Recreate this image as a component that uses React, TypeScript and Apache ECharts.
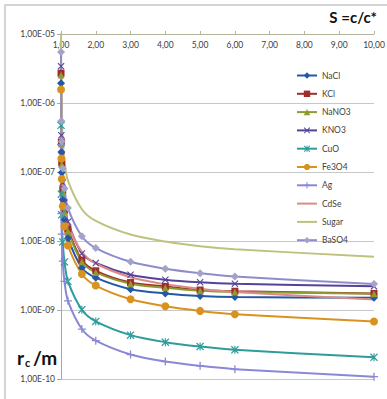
import React, { useEffect, useRef } from "react";
import * as echarts from "echarts";

// Supersaturation S values (x)
const S_VALUES = [1.001, 1.01, 1.02, 1.05, 1.1, 1.2, 1.6, 2, 3, 4, 5, 6, 10];

// Critical radius r_c in m (y)
const NACL = [1.93e-6, 1.95e-7, 9.8e-8, 4.0e-8, 2.05e-8, 1.1e-8, 4.1e-9, 2.94e-9, 2.0e-9, 1.74e-9, 1.6e-9, 1.54e-9, 1.5e-9];
const KCL = [2.7e-6, 2.7e-7, 1.36e-7, 5.5e-8, 2.8e-8, 1.5e-8, 5.3e-9, 3.7e-9, 2.5e-9, 2.2e-9, 1.95e-9, 1.87e-9, 1.74e-9];
const NANO3 = [2.55e-6, 2.55e-7, 1.28e-7, 5.2e-8, 2.65e-8, 1.4e-8, 5.0e-9, 3.5e-9, 2.4e-9, 2.1e-9, 1.9e-9, 1.83e-9, 1.72e-9];
const KNO3 = [3.4e-6, 3.4e-7, 1.72e-7, 7.0e-8, 3.6e-8, 1.9e-8, 6.6e-9, 4.8e-9, 3.25e-9, 2.75e-9, 2.52e-9, 2.4e-9, 2.2e-9];
const CUO = [4.75e-7, 4.77e-8, 2.4e-8, 9.7e-9, 4.98e-9, 2.6e-9, 1.01e-9, 6.84e-10, 4.32e-10, 3.42e-10, 2.95e-10, 2.65e-10, 2.06e-10];
const FE3O4 = [1.57e-6, 1.57e-7, 7.9e-8, 3.2e-8, 1.64e-8, 8.6e-9, 3.33e-9, 2.26e-9, 1.43e-9, 1.13e-9, 9.7e-10, 8.7e-10, 6.8e-10];
const AG = [2.49e-7, 2.5e-8, 1.26e-8, 5.1e-9, 2.6e-9, 1.36e-9, 5.3e-10, 3.59e-10, 2.26e-10, 1.79e-10, 1.55e-10, 1.39e-10, 1.08e-10];
const CDSE = [3.27e-6, 3.29e-7, 1.65e-7, 6.7e-8, 3.43e-8, 1.79e-8, 6.96e-9, 4.72e-9, 2.98e-9, 2.36e-9, 2.03e-9, 1.82e-9, 1.42e-9];
const SUGAR = [1.36e-5, 1.37e-6, 6.9e-7, 2.8e-7, 1.43e-7, 7.5e-8, 2.89e-8, 1.96e-8, 1.24e-8, 9.8e-9, 8.4e-9, 7.6e-9, 5.9e-9];
const BASO4 = [5.48e-6, 5.5e-7, 2.77e-7, 1.12e-7, 5.75e-8, 3.0e-8, 1.17e-8, 7.9e-9, 4.99e-9, 3.95e-9, 3.4e-9, 3.06e-9, 2.38e-9];

const SERIES_NAMES = ["NaCl", "KCl", "NaNO3", "KNO3", "CuO", "Fe3O4", "Ag", "CdSe", "Sugar", "BaSO4"];
const SERIES_VALUES = [NACL, KCL, NANO3, KNO3, CUO, FE3O4, AG, CDSE, SUGAR, BASO4];

const PLUS = "path://M4.2,0H5.8V4.2H10V5.8H5.8V10H4.2V5.8H0V4.2H4.2Z";
const CROSS = "path://M0,1.1L1.1,0L5,3.9L8.9,0L10,1.1L6.1,5L10,8.9L8.9,10L5,6.1L1.1,10L0,8.9L3.9,5Z";
const STAR = "path://M0,1.1L1.1,0L5,3.9L8.9,0L10,1.1L6.1,5L10,8.9L8.9,10L5,6.1L1.1,10L0,8.9L3.9,5ZM4.3,0H5.7V10H4.3Z";

const STYLES: Record<string, { color: string; symbol: string; size: number; fill?: string }> = {
  NaCl: { color: "#2458A6", symbol: "diamond", size: 8 },
  KCl: { color: "#A02C2C", symbol: "rect", size: 7 },
  NaNO3: { color: "#8F9B2E", symbol: "triangle", size: 7 },
  KNO3: { color: "#55439A", symbol: CROSS, size: 7 },
  CuO: { color: "#2E9C9C", symbol: STAR, size: 8 },
  Fe3O4: { color: "#D9921E", symbol: "circle", size: 8 },
  Ag: { color: "#8A88D6", symbol: PLUS, size: 8 },
  CdSe: { color: "#DB8A8A", symbol: "none", size: 0 },
  Sugar: { color: "#BEC27E", symbol: "none", size: 0 },
  BaSO4: { color: "#8E8CCB", symbol: "diamond", size: 8, fill: "#A3A3C9" },
};

const FONT = "Lato, 'Noto Sans', sans-serif";

function fmtExp(v: number) {
  const e = Math.round(Math.log10(v));
  const a = Math.abs(e);
  return "1,00E" + (e < 0 ? "-" : "+") + (a < 10 ? "0" + a : String(a));
}

export default function App() {
  const ref = useRef<HTMLDivElement>(null);
  useEffect(() => {
    const chart = echarts.init(ref.current!, null, { renderer: "svg" });
    const series = SERIES_NAMES.map((name, i) => {
      const st = STYLES[name];
      return {
        name,
        type: "line",
        data: S_VALUES.map((s, j) => [s, SERIES_VALUES[i][j]]),
        symbol: st.symbol,
        symbolSize: st.size,
        showSymbol: st.symbol !== "none",
        smooth: 0.3,
        clip: true,
        lineStyle: { color: st.color, width: 2 },
        itemStyle: { color: st.fill || st.color, borderWidth: 0 },
        emphasis: { disabled: true },
      };
    });
    const legendData = SERIES_NAMES.map((name) =>
      STYLES[name].symbol === "none" ? { name, itemStyle: { opacity: 0 } } : { name }
    );
    chart.setOption({
      animation: false,
      backgroundColor: "#fff",
      grid: { left: 61, right: 13, top: 34, bottom: 20, containLabel: false, outerBoundsMode: "none" },
      xAxis: {
        type: "value",
        position: "top",
        min: 1,
        max: 10,
        interval: 1,
        axisLine: { show: true, lineStyle: { color: "#B4B49C", width: 1 } },
        axisTick: { show: true, inside: false, length: 3, lineStyle: { color: "#B4B49C" } },
        axisLabel: {
          inside: true,
          margin: 6,
          fontSize: 8.5,
          fontFamily: FONT,
          color: "#404040",
          formatter: (v: number) => v.toFixed(2).replace(".", ","),
        },
        splitLine: { show: false },
      },
      yAxis: {
        type: "log",
        logBase: 10,
        min: 1e-10,
        max: 1e-5,
        splitNumber: 5,
        axisLine: { show: true, lineStyle: { color: "#A6A6A6", width: 1 } },
        axisTick: { show: true, length: 4, lineStyle: { color: "#A6A6A6" } },
        axisLabel: {
          margin: 6,
          fontSize: 8.5,
          fontFamily: FONT,
          color: "#404040",
          formatter: (v: number) => fmtExp(v),
        },
        splitLine: { show: true, lineStyle: { color: "#C8C8C8", width: 1 } },
      },
      legend: {
        orient: "vertical",
        left: 291,
        top: 66,
        itemWidth: 20,
        itemHeight: 8,
        itemGap: 9.3,
        data: legendData,
        textStyle: { fontSize: 8.5, fontFamily: FONT, color: "#404040" },
        selectedMode: false,
      },
      graphic: [
        {
          type: "rect",
          silent: true,
          shape: { x: 5, y: 5, width: 420, height: 420 },
          style: { fill: "none", stroke: "#D4D4D4", lineWidth: 2 },
        },
        {
          type: "text",
          silent: true,
          x: 377,
          y: 17,
          style: { text: "S =c/c*", font: "bold 15px " + FONT, fill: "#111", align: "right", verticalAlign: "middle" },
        },
        {
          type: "text",
          silent: true,
          x: 17,
          y: 357,
          style: { text: "r", font: "bold 19px " + FONT, fill: "#111", align: "left", verticalAlign: "middle" },
        },
        {
          type: "text",
          silent: true,
          x: 25,
          y: 362,
          style: { text: "c", font: "bold 11px " + FONT, fill: "#111", align: "left", verticalAlign: "middle" },
        },
        {
          type: "text",
          silent: true,
          x: 33,
          y: 357,
          style: { text: "/m", font: "bold 19px " + FONT, fill: "#111", align: "left", verticalAlign: "middle" },
        },
      ],
      series,
    });
    return () => chart.dispose();
  }, []);
  return (
    <div
      ref={ref}
      style={{ position: "fixed", left: 0, top: 0, width: 387, height: 399, background: "#fff" }}
    />
  );
}
